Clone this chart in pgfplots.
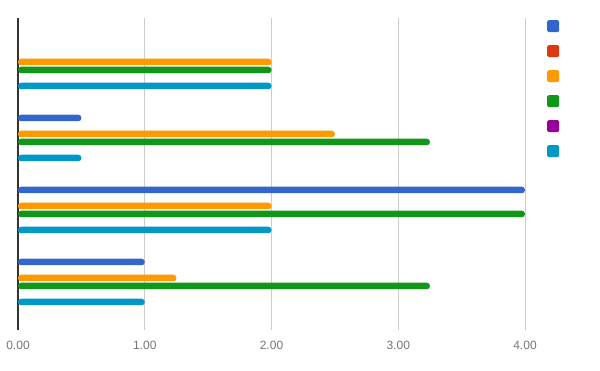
\documentclass[border=0pt]{standalone}
\usepackage{pgfplots}
\usepackage{pgfplotstable}
\usepackage{fontspec}
\setmainfont{Liberation Sans}
\pgfplotsset{compat=1.18}
\definecolor{cblue}{HTML}{3366CC}
\definecolor{cred}{HTML}{DC3912}
\definecolor{corange}{HTML}{FF9900}
\definecolor{cgreen}{HTML}{109618}
\definecolor{cpurple}{HTML}{990099}
\definecolor{cteal}{HTML}{0099C6}
\definecolor{gridgray}{HTML}{CCCCCC}
\definecolor{ticktext}{HTML}{757575}
\pgfplotstableread{
y blue red orange green purple teal
0 0 0 2 2 0 2
1 0.5 0 2.5 3.25 0 0.5
2 4 0 2 4 0 2
3 1 0 1.25 3.25 0 1
}\data
\begin{document}
\begin{tikzpicture}
\path[use as bounding box] (0,0) rectangle (600pt,371pt);
\begin{axis}[
  at={(18pt,41pt)}, anchor=south west,
  scale only axis, width=507pt, height=312pt,
  xbar=2pt, bar width=6.5pt,
  xmin=0, xmax=4,
  ymin=-0.6667, ymax=3.6667, y dir=reverse,
  ytick=\empty,
  xtick={0,1,2,3,4},
  major tick length=0pt,
  xmajorgrids, major grid style={gridgray, line width=0.8pt},
  axis x line=bottom, axis y line=left,
  x axis line style={draw=none},
  y axis line style={draw=black!80, line width=1.2pt, -},
  xticklabel style={font=\fontsize{12}{14}\selectfont, text=ticktext, yshift=-8pt},
  /pgf/number format/.cd, fixed, fixed zerofill, precision=2, assume math mode=true,
  /pgfplots/.cd,
  every axis plot/.append style={draw=none, rounded corners=3pt},
  legend image code/.code={\fill[#1,/tikz/.cd, rounded corners=1.5pt] (0pt,-6pt) rectangle (12pt,6pt);},
  legend style={at={(1,1)}, anchor=north west, xshift=22pt, yshift=-2pt,
    draw=none, fill=none, inner sep=0pt, row sep=13pt, column sep=0pt,
    nodes={inner sep=0pt, text height=0pt, text depth=0pt}},
  legend cell align=left,
]
\addplot[fill=cblue, bar shift=20pt] table[x=blue,y=y]{\data}; \addlegendentry{}
\addplot[fill=cred, bar shift=12pt] table[x=red,y=y]{\data}; \addlegendentry{}
\addplot[fill=corange, bar shift=4pt] table[x=orange,y=y]{\data}; \addlegendentry{}
\addplot[fill=cgreen, bar shift=-4pt] table[x=green,y=y]{\data}; \addlegendentry{}
\addplot[fill=cpurple, bar shift=-12pt] table[x=purple,y=y]{\data}; \addlegendentry{}
\addplot[fill=cteal, bar shift=-20pt] table[x=teal,y=y]{\data}; \addlegendentry{}
\end{axis}
\end{tikzpicture}
\end{document}
